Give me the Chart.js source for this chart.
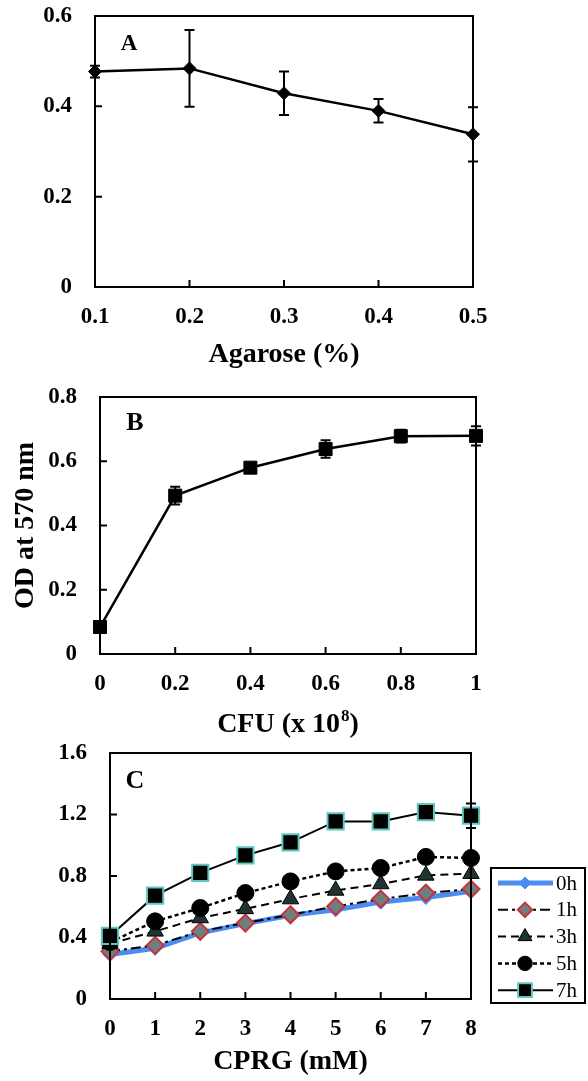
<!DOCTYPE html>
<html>
<head>
<meta charset="utf-8">
<script src="https://cdn.jsdelivr.net/npm/chart.js@4.4.0/dist/chart.umd.min.js"></script>
<style>
  html, body { margin: 0; padding: 0; background: #fff; }
  #wrap { position: relative; width: 588px; height: 1081px; overflow: hidden; }
  #wrap canvas { position: absolute; left: 0; top: 0; }
</style>
</head>
<body>
<div id="wrap">
  <canvas id="chartA" width="588" height="1081"></canvas>
  <canvas id="chartB" width="588" height="1081"></canvas>
  <canvas id="chartC" width="588" height="1081"></canvas>
</div>
<script>
// ---- data ----
// panel A
const agarose = ["0.1", "0.2", "0.3", "0.4", "0.5"];
const odAgarose = [0.477, 0.484, 0.429, 0.390, 0.338];
const errAgarose = [0.013, 0.085, 0.048, 0.026, 0.060];
const yTicksA = [0, 0.2, 0.4, 0.6];

// panel B
const cfu = ["0", "0.2", "0.4", "0.6", "0.8", "1"];
const odCfu = [0.084, 0.493, 0.580, 0.638, 0.678, 0.679];
const errCfu = [0.008, 0.028, 0.010, 0.027, 0.020, 0.030];
const yTicksB = [0, 0.2, 0.4, 0.6, 0.8];

// panel C
const cprg = ["0", "1", "2", "3", "4", "5", "6", "7", "8"];
const series = ["0h", "1h", "3h", "5h", "7h"];
const od0h = [0.29, 0.33, 0.43, 0.49, 0.545, 0.58, 0.63, 0.66, 0.70];
const od1h = [0.31, 0.349, 0.44, 0.494, 0.548, 0.602, 0.65, 0.689, 0.715];
const od3h = [0.36, 0.44, 0.527, 0.586, 0.65, 0.706, 0.748, 0.804, 0.815];
const od5h = [0.37, 0.505, 0.592, 0.689, 0.765, 0.83, 0.852, 0.924, 0.917];
const od7h = [0.41, 0.672, 0.82, 0.934, 1.019, 1.155, 1.155, 1.216, 1.192];
const err5h = [0, 0, 0, 0, 0.03, 0, 0, 0, 0];
const err7h = [0.01, 0.01, 0.03, 0.01, 0.01, 0.01, 0.01, 0.01, 0.08];
const yTicksC = [0, 0.4, 0.8, 1.2, 1.6];

const SERIF = "'Liberation Serif', 'Times New Roman', serif";
const tickFont = { family: SERIF, size: 23, weight: "bold" };
const titleFont = { family: SERIF, size: 28, weight: "bold", lineHeight: 1 };

// error bars, frame, inward ticks and panel letter
const decor = {
  id: "decor",
  beforeDatasetsDraw(chart) {
    const ctx = chart.ctx;
    const x = chart.scales.x, y = chart.scales.y;
    ctx.save();
    ctx.strokeStyle = "#000";
    ctx.lineWidth = 2;
    chart.data.datasets.forEach((ds) => {
      if (!ds.errors) return;
      ds.data.forEach((v, i) => {
        const e = ds.errors[i];
        if (!e) return;
        const px = x.getPixelForValue(i);
        const top = y.getPixelForValue(v + e), bot = y.getPixelForValue(v - e);
        ctx.beginPath();
        ctx.moveTo(px, top); ctx.lineTo(px, bot);
        ctx.moveTo(px - 5, top); ctx.lineTo(px + 5, top);
        ctx.moveTo(px - 5, bot); ctx.lineTo(px + 5, bot);
        ctx.stroke();
      });
    });
    ctx.restore();
  },
  afterDraw(chart, args, opts) {
    const ctx = chart.ctx;
    const a = chart.chartArea;
    const x = chart.scales.x, y = chart.scales.y;
    ctx.save();
    ctx.strokeStyle = "#000";
    ctx.lineWidth = 2;
    ctx.strokeRect(a.left, a.top, a.right - a.left, a.bottom - a.top);
    ctx.beginPath();
    for (let i = 1; i < chart.data.labels.length - 1; i++) {
      const px = x.getPixelForValue(i);
      ctx.moveTo(px, a.bottom); ctx.lineTo(px, a.bottom - 7);
    }
    y.ticks.forEach((t) => {
      if (t.value === y.min || t.value === y.max) return;
      const py = y.getPixelForValue(t.value);
      ctx.moveTo(a.left, py); ctx.lineTo(a.left + 7, py);
    });
    ctx.stroke();
    ctx.fillStyle = "#000";
    ctx.font = "bold " + opts.letterSize + "px " + SERIF;
    ctx.textBaseline = "alphabetic";
    ctx.textAlign = "center";
    ctx.fillText(opts.letter, opts.letterX, opts.letterY + opts.shift);
    ctx.restore();
  }
};

function panel(id, cfg) {
  const s = cfg.shift || 0;
  const canvas = document.getElementById(id);
  canvas.style.top = (-s) + "px";
  cfg.decor.shift = s;
  return new Chart(canvas, {
    type: "line",
    data: { labels: cfg.labels, datasets: cfg.datasets },
    options: {
      responsive: false,
      animation: false,
      devicePixelRatio: 1,
      layout: { padding: { left: 0, top: cfg.top + s, right: 588 - cfg.right, bottom: 1081 - cfg.axisBottom - s } },
      plugins: {
        legend: { display: false },
        tooltip: { enabled: false },
        decor: cfg.decor
      },
      scales: {
        x: {
          type: "category",
          offset: false,
          afterFit: (sc) => { sc.height = cfg.axisBottom - cfg.bottom; },
          grid: { display: false, drawTicks: false },
          border: { display: false },
          ticks: { font: tickFont, color: "#000", padding: 16, maxRotation: 0, autoSkip: false },
          title: cfg.xTitle || { display: false }
        },
        y: {
          type: "linear",
          min: 0,
          max: cfg.yMax,
          afterBuildTicks: (sc) => { sc.ticks = cfg.yTicks.map((v) => ({ value: v })); },
          afterFit: (sc) => { sc.width = cfg.left; },
          grid: { display: false, drawTicks: false },
          border: { display: false },
          ticks: {
            font: tickFont, color: "#000", padding: 23,
            callback: (v) => (v === 0 ? "0" : v.toFixed(1))
          },
          title: cfg.yTitle || { display: false }
        }
      }
    },
    plugins: [decor].concat(cfg.plugins || [])
  });
}

// ---- panel A ----
panel("chartA", {
  labels: agarose, shift: 40,
  top: 16, bottom: 287, left: 95, right: 473, axisBottom: 375,
  yTicks: yTicksA, yMax: 0.6,
  xTitle: { display: true, text: "Agarose (%)", font: titleFont, color: "#000", padding: { top: 0, bottom: 6 } },
  decor: { letter: "A", letterX: 129, letterY: 50, letterSize: 23 },
  datasets: [{
    data: odAgarose, errors: errAgarose,
    borderColor: "#000", borderWidth: 2.5, tension: 0, clip: false,
    pointStyle: "rectRot", pointRadius: 6.5, pointBackgroundColor: "#000", pointBorderColor: "#000", pointBorderWidth: 1
  }]
});

// ---- panel B ----
const supTitle = {
  id: "supTitle",
  afterDraw(chart) {
    const ctx = chart.ctx;
    const a = chart.chartArea;
    const cx = (a.left + a.right) / 2, base = 732;
    ctx.save();
    ctx.fillStyle = "#000";
    ctx.textBaseline = "alphabetic";
    ctx.textAlign = "left";
    const big = "bold 28px " + SERIF, small = "bold 17px " + SERIF;
    ctx.font = big;
    const w1 = ctx.measureText("CFU (x 10").width, w3 = ctx.measureText(")").width;
    ctx.font = small;
    const w2 = ctx.measureText("8").width + 1;
    const x0 = cx - (w1 + w2 + w3) / 2;
    ctx.font = big; ctx.fillText("CFU (x 10", x0, base);
    ctx.font = small; ctx.fillText("8", x0 + w1 + 1, base - 11);
    ctx.font = big; ctx.fillText(")", x0 + w1 + w2, base);
    ctx.restore();
  }
};

panel("chartB", {
  labels: cfu,
  top: 397, bottom: 654, left: 100, right: 476, axisBottom: 745,
  yTicks: yTicksB, yMax: 0.8,
  yTitle: { display: true, text: "OD at 570 nm", font: { family: SERIF, size: 28, weight: "bold", lineHeight: 1 }, color: "#000", padding: { top: 12, bottom: 0 } },
  decor: { letter: "B", letterX: 135, letterY: 430, letterSize: 26 },
  plugins: [supTitle],
  datasets: [{
    data: odCfu, errors: errCfu,
    borderColor: "#000", borderWidth: 2.5, tension: 0, clip: false,
    pointStyle: "rect", pointRadius: 9.2, pointBackgroundColor: "#000", pointBorderColor: "#000", pointBorderWidth: 1
  }]
});

// ---- panel C ----
const boxLegend = {
  id: "boxLegend",
  afterDraw(chart) {
    const ctx = chart.ctx;
    const bx = 491, by = 868, bw = 94, bh = 135;
    ctx.save();
    ctx.strokeStyle = "#000";
    ctx.lineWidth = 2;
    ctx.strokeRect(bx, by, bw, bh);
    const order = chart.data.datasets.slice().sort((p, q) => series.indexOf(p.label) - series.indexOf(q.label));
    order.forEach((ds, i) => {
      const yy = by + 15 + i * 26.8;
      ctx.beginPath();
      ctx.setLineDash(ds.borderDash || []);
      ctx.strokeStyle = ds.borderColor;
      ctx.lineWidth = ds.borderWidth;
      ctx.moveTo(498, yy); ctx.lineTo(553, yy);
      ctx.stroke();
      ctx.setLineDash([]);
      ctx.fillStyle = ds.pointBackgroundColor;
      ctx.strokeStyle = ds.pointBorderColor;
      ctx.lineWidth = ds.pointBorderWidth;
      Chart.helpers.drawPoint(ctx, { pointStyle: ds.pointStyle, radius: ds.pointRadius * 0.85, rotation: 0, borderWidth: ds.pointBorderWidth }, 525, yy);
      ctx.fillStyle = "#000";
      ctx.font = "21px " + SERIF;
      ctx.textBaseline = "middle";
      ctx.textAlign = "left";
      ctx.fillText(ds.label, 556, yy + 1);
    });
    ctx.restore();
  }
};

panel("chartC", {
  labels: cprg,
  top: 753, bottom: 999, left: 110, right: 471, axisBottom: 1081,
  yTicks: yTicksC, yMax: 1.6,
  xTitle: { display: true, text: "CPRG (mM)", font: titleFont, color: "#000", padding: { top: 0, bottom: 5 } },
  decor: { letter: "C", letterX: 135, letterY: 788, letterSize: 26 },
  plugins: [boxLegend],
  datasets: [
    {
      label: series[4], data: od7h, errors: err7h, order: 1,
      borderColor: "#000", borderWidth: 2, tension: 0, clip: false,
      pointStyle: "rect", pointRadius: 11.5, pointBackgroundColor: "#000", pointBorderColor: "#5cc8c0", pointBorderWidth: 2
    },
    {
      label: series[3], data: od5h, errors: err5h, order: 2,
      borderColor: "#000", borderWidth: 2.5, borderDash: [4, 3], tension: 0, clip: false,
      pointStyle: "circle", pointRadius: 8.5, pointBackgroundColor: "#000", pointBorderColor: "#000", pointBorderWidth: 1
    },
    {
      label: series[2], data: od3h, order: 3,
      borderColor: "#000", borderWidth: 2, borderDash: [8, 5], tension: 0, clip: false,
      pointStyle: "triangle", pointRadius: 9.5, pointBackgroundColor: "#1f3333", pointBorderColor: "#000", pointBorderWidth: 1
    },
    {
      label: series[1], data: od1h, order: 4,
      borderColor: "#000", borderWidth: 2, borderDash: [10, 4, 3, 4], tension: 0, clip: false,
      pointStyle: "rectRot", pointRadius: 8.5, pointBackgroundColor: "#6f7f7f", pointBorderColor: "#c8323c", pointBorderWidth: 2
    },
    {
      label: series[0], data: od0h, order: 5,
      borderColor: "#4a8cf0", borderWidth: 5, tension: 0, clip: false,
      pointStyle: "rectRot", pointRadius: 7, pointBackgroundColor: "#4a8cf0", pointBorderColor: "#4a8cf0", pointBorderWidth: 1
    }
  ]
});
</script>
</body>
</html>
